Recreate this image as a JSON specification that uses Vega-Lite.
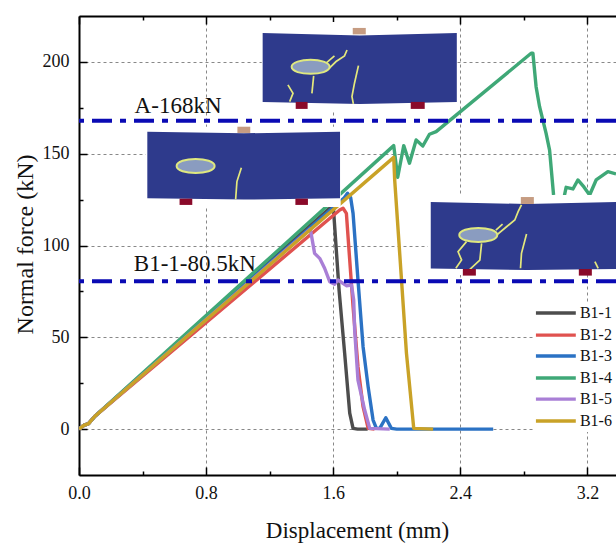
{
"$schema":"https://vega.github.io/schema/vega-lite/v6.json",
"width":537,"height":459,"autosize":{"type":"none"},
"padding":{"left":79,"top":16,"right":0,"bottom":72},
"background":"white",
"config":{"view":{"stroke":null},"font":"Liberation Serif"},
"datasets":{
"curves":[
{"s":"B1-1","d":0,"f":0},{"s":"B1-1","d":0.03,"f":2},{"s":"B1-1","d":0.06,"f":3},{"s":"B1-1","d":0.1,"f":7},{"s":"B1-1","d":1.6,"f":122},{"s":"B1-1","d":1.637,"f":75.7},{"s":"B1-1","d":1.672,"f":41.4},{"s":"B1-1","d":1.704,"f":8.7},{"s":"B1-1","d":1.725,"f":0.4},{"s":"B1-1","d":1.754,"f":0},{"s":"B1-1","d":1.817,"f":0},
{"s":"B1-2","d":0,"f":0},{"s":"B1-2","d":0.03,"f":2},{"s":"B1-2","d":0.06,"f":3},{"s":"B1-2","d":0.1,"f":7},{"s":"B1-2","d":1.641,"f":119.3},{"s":"B1-2","d":1.662,"f":120.3},{"s":"B1-2","d":1.683,"f":117.5},{"s":"B1-2","d":1.698,"f":99.3},{"s":"B1-2","d":1.725,"f":66.7},{"s":"B1-2","d":1.756,"f":34},{"s":"B1-2","d":1.788,"f":12.2},{"s":"B1-2","d":1.82,"f":0.4},{"s":"B1-2","d":1.86,"f":0},
{"s":"B1-3","d":0,"f":0},{"s":"B1-3","d":0.03,"f":2},{"s":"B1-3","d":0.06,"f":3},{"s":"B1-3","d":0.1,"f":7},{"s":"B1-3","d":1.67,"f":126},{"s":"B1-3","d":1.69,"f":128.5},{"s":"B1-3","d":1.71,"f":126},{"s":"B1-3","d":1.725,"f":117.5},{"s":"B1-3","d":1.756,"f":81.2},{"s":"B1-3","d":1.788,"f":44.9},{"s":"B1-3","d":1.82,"f":23},{"s":"B1-3","d":1.851,"f":4.9},{"s":"B1-3","d":1.872,"f":0.4},{"s":"B1-3","d":1.893,"f":0.4},{"s":"B1-3","d":1.931,"f":6.2},{"s":"B1-3","d":1.966,"f":0.4},{"s":"B1-3","d":2.0,"f":0},{"s":"B1-3","d":2.607,"f":0},
{"s":"B1-4","d":0,"f":0},{"s":"B1-4","d":0.03,"f":2},{"s":"B1-4","d":0.06,"f":3},{"s":"B1-4","d":0.1,"f":7},{"s":"B1-4","d":1.981,"f":154.4},{"s":"B1-4","d":2.006,"f":137.2},{"s":"B1-4","d":2.044,"f":154.4},{"s":"B1-4","d":2.08,"f":144.8},{"s":"B1-4","d":2.122,"f":157.5},{"s":"B1-4","d":2.164,"f":154.2},{"s":"B1-4","d":2.206,"f":160.6},{"s":"B1-4","d":2.248,"f":162},{"s":"B1-4","d":2.846,"f":204.7},{"s":"B1-4","d":2.857,"f":204.7},{"s":"B1-4","d":2.877,"f":186.5},{"s":"B1-4","d":2.899,"f":175.6},{"s":"B1-4","d":2.94,"f":161.1},{"s":"B1-4","d":2.962,"f":152},{"s":"B1-4","d":2.987,"f":127.5},{"s":"B1-4","d":3.008,"f":116.6},{"s":"B1-4","d":3.039,"f":116.6},{"s":"B1-4","d":3.056,"f":127.5},{"s":"B1-4","d":3.066,"f":131.7},{"s":"B1-4","d":3.109,"f":130.8},{"s":"B1-4","d":3.14,"f":135.7},{"s":"B1-4","d":3.178,"f":131.9},{"s":"B1-4","d":3.214,"f":127.5},{"s":"B1-4","d":3.255,"f":135.7},{"s":"B1-4","d":3.329,"f":140.2},{"s":"B1-4","d":3.38,"f":139},
{"s":"B1-5","d":0,"f":0},{"s":"B1-5","d":0.03,"f":2},{"s":"B1-5","d":0.06,"f":3},{"s":"B1-5","d":0.1,"f":7},{"s":"B1-5","d":1.456,"f":109},{"s":"B1-5","d":1.483,"f":95.7},{"s":"B1-5","d":1.515,"f":93},{"s":"B1-5","d":1.546,"f":87.6},{"s":"B1-5","d":1.578,"f":80.3},{"s":"B1-5","d":1.609,"f":78.9},{"s":"B1-5","d":1.63,"f":81.2},{"s":"B1-5","d":1.683,"f":78.1},{"s":"B1-5","d":1.715,"f":78.5},{"s":"B1-5","d":1.729,"f":70.3},{"s":"B1-5","d":1.735,"f":54},{"s":"B1-5","d":1.756,"f":26.7},{"s":"B1-5","d":1.798,"f":10.4},{"s":"B1-5","d":1.83,"f":0.4},{"s":"B1-5","d":1.956,"f":0},
{"s":"B1-6","d":0,"f":0},{"s":"B1-6","d":0.03,"f":2},{"s":"B1-6","d":0.06,"f":3},{"s":"B1-6","d":0.1,"f":7},{"s":"B1-6","d":1.981,"f":148},{"s":"B1-6","d":1.987,"f":135.7},{"s":"B1-6","d":2.03,"f":81.2},{"s":"B1-6","d":2.061,"f":41.4},{"s":"B1-6","d":2.107,"f":0.4},{"s":"B1-6","d":2.229,"f":0}
],
"white":[{"a":1.15,"b":2.38,"lo":173.8,"hi":221.8},{"a":0.419,"b":1.647,"lo":121,"hi":164.7},{"a":2.195,"b":3.38,"lo":84,"hi":127.5},{"a":2.86,"b":3.38,"lo":-1.6,"hi":68.7}],
"bodies":[
{"i":1,"x":1.156,"t":215.8,"u":178.2},{"i":1,"x":1.767,"t":214.4,"u":177.1},{"i":1,"x":2.378,"t":215.8,"u":178.2},
{"i":2,"x":0.43,"t":162,"u":125.7},{"i":2,"x":1.037,"t":161.1,"u":125},{"i":2,"x":1.643,"t":162,"u":125.7},
{"i":3,"x":2.214,"t":123.7,"u":87.5},{"i":3,"x":2.819,"t":122.6,"u":86.6},{"i":3,"x":3.38,"t":123.7,"u":87.2}],
"plates":[{"a":1.723,"b":1.805,"lo":215,"hi":218.5},{"a":0.997,"b":1.078,"lo":161.3,"hi":164.7},{"a":2.781,"b":2.863,"lo":122.6,"hi":126.4}],
"supports":[{"a":1.364,"b":1.439,"lo":174.4,"hi":178.2},{"a":2.088,"b":2.176,"lo":174.4,"hi":178.2},{"a":0.633,"b":0.713,"lo":122.1,"hi":125.5},{"a":1.362,"b":1.441,"lo":122.1,"hi":125.5},{"a":2.416,"b":2.498,"lo":83.6,"hi":87.2},{"a":3.146,"b":3.228,"lo":83.6,"hi":87.2}],
"holes":[{"x":1.458,"y":197.3},{"x":0.734,"y":143.3},{"x":2.513,"y":105.7}],
"cracks":[
{"c":"1a","n":1,"x":1.315,"y":187.5},{"c":"1a","n":2,"x":1.347,"y":182.9},{"c":"1a","n":3,"x":1.326,"y":178.4},
{"c":"1b","n":1,"x":1.576,"y":196.6},{"c":"1b","n":2,"x":1.618,"y":200.2},{"c":"1b","n":3,"x":1.671,"y":203.3},{"c":"1b","n":4,"x":1.687,"y":206.5},
{"c":"1c","n":1,"x":1.555,"y":199.3},{"c":"1c","n":2,"x":1.608,"y":203.3},
{"c":"1d","n":1,"x":1.477,"y":192.4},{"c":"1d","n":2,"x":1.466,"y":182.9},
{"c":"1e","n":1,"x":1.759,"y":198},{"c":"1e","n":2,"x":1.734,"y":188.4},{"c":"1e","n":3,"x":1.718,"y":181.1},{"c":"1e","n":4,"x":1.727,"y":177.1},
{"c":"2a","n":1,"x":1.022,"y":142.4},{"c":"2a","n":2,"x":0.994,"y":134.8},{"c":"2a","n":3,"x":0.986,"y":125.2},
{"c":"3a","n":1,"x":2.617,"y":104.8},{"c":"3a","n":2,"x":2.691,"y":110.2},{"c":"3a","n":3,"x":2.743,"y":113.9},{"c":"3a","n":4,"x":2.764,"y":118.4},{"c":"3a","n":5,"x":2.785,"y":122.1},
{"c":"3b","n":1,"x":2.624,"y":108.4},{"c":"3b","n":2,"x":2.666,"y":111.7},
{"c":"3c","n":1,"x":2.439,"y":102.1},{"c":"3c","n":2,"x":2.386,"y":96.6},{"c":"3c","n":3,"x":2.408,"y":92.1},{"c":"3c","n":4,"x":2.372,"y":87.6},
{"c":"3d","n":1,"x":2.534,"y":101.2},{"c":"3d","n":2,"x":2.523,"y":92.1},{"c":"3d","n":3,"x":2.46,"y":87},
{"c":"3e","n":1,"x":2.817,"y":106.3},{"c":"3e","n":2,"x":2.785,"y":95.7},{"c":"3e","n":3,"x":2.779,"y":87.6},
{"c":"3f","n":1,"x":3.247,"y":91.2},{"c":"3f","n":2,"x":3.268,"y":87.6}],
"levels":[{"f":168},{"f":80.5}],
"notes":[{"x":0.35,"y":172,"t":"A-168kN"},{"x":0.345,"y":86,"t":"B1-1-80.5kN"}],
"key":[{"s":"B1-1","a":2.876,"b":3.127,"t":3.153,"y":63.2},{"s":"B1-2","a":2.876,"b":3.127,"t":3.153,"y":51.2},{"s":"B1-3","a":2.876,"b":3.127,"t":3.153,"y":39.8},{"s":"B1-4","a":2.876,"b":3.127,"t":3.153,"y":27.8},{"s":"B1-5","a":2.876,"b":3.127,"t":3.153,"y":16.3},{"s":"B1-6","a":2.876,"b":3.127,"t":3.153,"y":4.4}]
},
"resolve":{"axis":{"x":"independent","y":"independent"}},
"layer":[
{"data":{"name":"levels"},"mark":{"type":"rule","opacity":0},
 "encoding":{
 "x":{"datum":0,"type":"quantitative","scale":{"domain":[0,3.38],"nice":false,"zero":false},
  "axis":{"orient":"bottom","title":"Displacement (mm)","titleFont":"Liberation Serif","titleFontSize":23,"titleFontWeight":"normal","titleColor":"#111","titleX":278,"titleY":62,"titleBaseline":"alphabetic",
   "values":[0,0.8,1.6,2.4,3.2],"format":".1f","labelFlush":false,"labelFont":"Liberation Serif","labelFontSize":18,"labelColor":"#111","labelPadding":17,"labelOverlap":false,
   "domainColor":"#000","domainWidth":2,"tickColor":"#000","tickWidth":1.5,"tickSize":-8,
   "grid":true,"gridColor":"#888","gridDash":[3,3],"gridWidth":1}},
 "y":{"field":"f","type":"quantitative","scale":{"domain":[-25,225],"nice":false,"zero":false},
  "axis":{"title":"Normal force (kN)","titleFont":"Liberation Serif","titleFontSize":24,"titleFontWeight":"normal","titleColor":"#111","titleX":-54,"titleY":228,"titleBaseline":"middle",
   "values":[0,50,100,150,200],"labelFlush":false,"labelFont":"Liberation Serif","labelFontSize":18,"labelColor":"#111","labelPadding":18,"labelOverlap":false,
   "domainColor":"#000","domainWidth":2,"tickColor":"#000","tickWidth":1.5,"tickSize":-8,
   "grid":true,"gridColor":"#888","gridDash":[3,3],"gridWidth":1}}}},
{"data":{"name":"levels"},"mark":{"type":"rule","opacity":0},
 "encoding":{
 "x":{"datum":0,"type":"quantitative",
  "axis":{"orient":"bottom","title":null,"values":[0.4,1.2,2.0,2.8],"labels":false,"grid":false,"domain":false,"tickColor":"#000","tickWidth":1.5,"tickSize":-4}},
 "y":{"field":"f","type":"quantitative",
  "axis":{"orient":"left","title":null,"values":[25,75,125,175],"labels":false,"grid":false,"domain":false,"tickColor":"#000","tickWidth":1.5,"tickSize":-4}}}},
{"data":{"name":"levels"},"mark":{"type":"rule","opacity":0},
 "encoding":{
 "x":{"datum":0,"type":"quantitative",
  "axis":{"orient":"top","title":null,"values":[0,0.8,1.6,2.4,3.2],"labels":false,"grid":false,"domainColor":"#000","domainWidth":2,"tickColor":"#000","tickWidth":1.5,"tickSize":-8}},
 "y":{"field":"f","type":"quantitative","axis":null}}},
{"data":{"name":"levels"},"mark":{"type":"rule","opacity":0},
 "encoding":{
 "x":{"datum":0,"type":"quantitative",
  "axis":{"orient":"top","title":null,"values":[0.4,1.2,2.0,2.8],"labels":false,"grid":false,"domain":false,"tickColor":"#000","tickWidth":1.5,"tickSize":-4}},
 "y":{"field":"f","type":"quantitative","axis":null}}},
{"data":{"name":"curves"},"mark":{"type":"line","strokeWidth":3.4,"strokeJoin":"round","clip":true},
 "encoding":{
 "x":{"field":"d","type":"quantitative","axis":null},
 "y":{"field":"f","type":"quantitative","axis":null},
 "color":{"field":"s","type":"nominal","scale":{"domain":["B1-1","B1-2","B1-3","B1-4","B1-5","B1-6"],"range":["#4d4d4d","#e0524f","#2b72c4","#3fa877","#a97fd6","#c9a227"]},"legend":null},
 "order":{"field":"d","type":"quantitative"}}},
{"data":{"name":"white"},"mark":{"type":"rect","fill":"white"},
 "encoding":{"x":{"field":"a","type":"quantitative","axis":null},"x2":{"field":"b"},"y":{"field":"lo","type":"quantitative","axis":null},"y2":{"field":"hi"}}},
{"data":{"name":"bodies"},"mark":{"type":"area","fill":"#2e3a8c"},
 "encoding":{"x":{"field":"x","type":"quantitative","axis":null},"y":{"field":"t","type":"quantitative","axis":null},"y2":{"field":"u"},"detail":{"field":"i"}}},
{"data":{"name":"cracks"},"mark":{"type":"line","stroke":"#e4e87c","strokeWidth":1.7},
 "encoding":{"x":{"field":"x","type":"quantitative","axis":null},"y":{"field":"y","type":"quantitative","axis":null},"detail":{"field":"c"},"order":{"field":"n"}}},
{"data":{"name":"holes"},"mark":{"type":"point","shape":"M-1,0C-1,-.49 1,-.49 1,0C1,.49 -1,.49 -1,0Z","size":1444,"filled":true,"fill":"#8a9cc0","fillOpacity":1,"stroke":"#dfe87f","strokeWidth":2,"opacity":1},
 "encoding":{"x":{"field":"x","type":"quantitative","axis":null},"y":{"field":"y","type":"quantitative","axis":null}}},
{"data":{"name":"plates"},"mark":{"type":"rect","fill":"#c69c82"},
 "encoding":{"x":{"field":"a","type":"quantitative","axis":null},"x2":{"field":"b"},"y":{"field":"lo","type":"quantitative","axis":null},"y2":{"field":"hi"}}},
{"data":{"name":"supports"},"mark":{"type":"rect","fill":"#8a0a2a"},
 "encoding":{"x":{"field":"a","type":"quantitative","axis":null},"x2":{"field":"b"},"y":{"field":"lo","type":"quantitative","axis":null},"y2":{"field":"hi"}}},
{"data":{"name":"levels"},"mark":{"type":"rule","stroke":"#0a0ab4","strokeWidth":4,"strokeDash":[20,8,6,8]},
 "encoding":{"y":{"field":"f","type":"quantitative","axis":null}}},
{"data":{"name":"notes"},"mark":{"type":"text","align":"left","baseline":"alphabetic","font":"Liberation Serif","fontSize":23,"color":"#111"},
 "encoding":{"x":{"field":"x","type":"quantitative","axis":null},"y":{"field":"y","type":"quantitative","axis":null},"text":{"field":"t"}}},
{"data":{"name":"key"},"mark":{"type":"rule","strokeWidth":3.4},
 "encoding":{"x":{"field":"a","type":"quantitative","axis":null},"x2":{"field":"b"},"y":{"field":"y","type":"quantitative","axis":null},"color":{"field":"s","type":"nominal","legend":null}}},
{"data":{"name":"key"},"mark":{"type":"text","align":"left","baseline":"middle","font":"Liberation Serif","fontSize":16,"color":"#111"},
 "encoding":{"x":{"field":"t","type":"quantitative","axis":null},"y":{"field":"y","type":"quantitative","axis":null},"text":{"field":"s"}}}
]
}
